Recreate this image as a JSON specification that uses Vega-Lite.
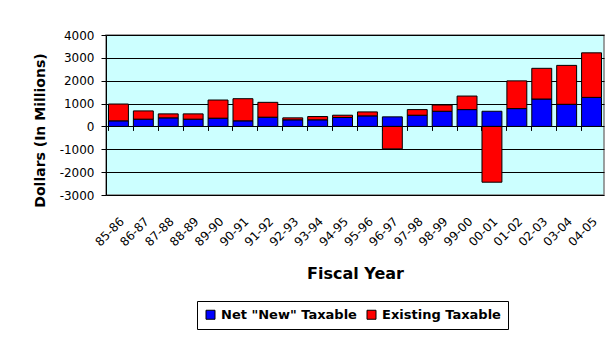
{
  "$schema": "https://vega.github.io/schema/vega-lite/v6.json",
  "width": 498,
  "height": 160,
  "autosize": {"type": "none"},
  "padding": {"left": 106, "top": 35, "right": 9, "bottom": 146},
  "background": "white",
  "data": {
    "values": [
      {"year": "85-86", "series": "Net \"New\" Taxable", "value": 245},
      {"year": "85-86", "series": "Existing Taxable", "value": 735},
      {"year": "86-87", "series": "Net \"New\" Taxable", "value": 318},
      {"year": "86-87", "series": "Existing Taxable", "value": 361},
      {"year": "87-88", "series": "Net \"New\" Taxable", "value": 375},
      {"year": "87-88", "series": "Existing Taxable", "value": 174},
      {"year": "88-89", "series": "Net \"New\" Taxable", "value": 318},
      {"year": "88-89", "series": "Existing Taxable", "value": 231},
      {"year": "89-90", "series": "Net \"New\" Taxable", "value": 361},
      {"year": "89-90", "series": "Existing Taxable", "value": 794},
      {"year": "90-91", "series": "Net \"New\" Taxable", "value": 245},
      {"year": "90-91", "series": "Existing Taxable", "value": 968},
      {"year": "91-92", "series": "Net \"New\" Taxable", "value": 404},
      {"year": "91-92", "series": "Existing Taxable", "value": 650},
      {"year": "92-93", "series": "Net \"New\" Taxable", "value": 289},
      {"year": "92-93", "series": "Existing Taxable", "value": 86},
      {"year": "93-94", "series": "Net \"New\" Taxable", "value": 289},
      {"year": "93-94", "series": "Existing Taxable", "value": 144},
      {"year": "94-95", "series": "Net \"New\" Taxable", "value": 390},
      {"year": "94-95", "series": "Existing Taxable", "value": 101},
      {"year": "95-96", "series": "Net \"New\" Taxable", "value": 462},
      {"year": "95-96", "series": "Existing Taxable", "value": 173},
      {"year": "96-97", "series": "Net \"New\" Taxable", "value": 419},
      {"year": "96-97", "series": "Existing Taxable", "value": -982},
      {"year": "97-98", "series": "Net \"New\" Taxable", "value": 491},
      {"year": "97-98", "series": "Existing Taxable", "value": 245},
      {"year": "98-99", "series": "Net \"New\" Taxable", "value": 664},
      {"year": "98-99", "series": "Existing Taxable", "value": 275},
      {"year": "99-00", "series": "Net \"New\" Taxable", "value": 736},
      {"year": "99-00", "series": "Existing Taxable", "value": 593},
      {"year": "00-01", "series": "Net \"New\" Taxable", "value": 664},
      {"year": "00-01", "series": "Existing Taxable", "value": -2440},
      {"year": "01-02", "series": "Net \"New\" Taxable", "value": 780},
      {"year": "01-02", "series": "Existing Taxable", "value": 1213},
      {"year": "02-03", "series": "Net \"New\" Taxable", "value": 1199},
      {"year": "02-03", "series": "Existing Taxable", "value": 1343},
      {"year": "03-04", "series": "Net \"New\" Taxable", "value": 968},
      {"year": "03-04", "series": "Existing Taxable", "value": 1703},
      {"year": "04-05", "series": "Net \"New\" Taxable", "value": 1271},
      {"year": "04-05", "series": "Existing Taxable", "value": 1949}
    ]
  },
  "mark": {"type": "bar", "stroke": "black", "strokeWidth": 1},
  "encoding": {
    "x": {
      "field": "year",
      "type": "ordinal",
      "sort": null,
      "scale": {"paddingInner": 0.2, "paddingOuter": 0.1},
      "axis": {
        "orient": "bottom",
        "offset": -68.57,
        "title": "Fiscal Year",
        "titleFont": "DejaVu Sans",
        "titleFontSize": 16,
        "titleFontWeight": "bold",
        "titleColor": "black",
        "titlePadding": 18,
        "labelAngle": -45,
        "labelFont": "DejaVu Sans",
        "labelFontSize": 12,
        "labelColor": "black",
        "labelPadding": 85,
        "ticks": true,
        "bandPosition": 0,
        "tickSize": 4,
        "tickColor": "black",
        "domain": false,
        "grid": false
      }
    },
    "y": {
      "field": "value",
      "type": "quantitative",
      "stack": "zero",
      "scale": {"domain": [-3000, 4000], "nice": false},
      "axis": {
        "title": "Dollars (In Millions)",
        "titleFont": "DejaVu Sans",
        "titleFontSize": 14,
        "titleFontWeight": "bold",
        "titleColor": "black",
        "titlePadding": 12,
        "titleY": 95,
        "values": [-3000, -2000, -1000, 0, 1000, 2000, 3000, 4000],
        "labelExpr": "'' + datum.value",
        "labelFont": "DejaVu Sans",
        "labelFontSize": 12,
        "labelColor": "black",
        "labelPadding": 7,
        "tickSize": 5,
        "tickColor": "black",
        "domainColor": "black",
        "gridColor": "black",
        "gridOpacity": 1,
        "gridWidth": 1
      }
    },
    "color": {
      "field": "series",
      "type": "nominal",
      "scale": {
        "domain": ["Net \"New\" Taxable", "Existing Taxable"],
        "range": ["#0000FF", "#FF0000"]
      },
      "legend": {
        "title": null,
        "orient": "none",
        "legendX": 91,
        "legendY": 266,
        "direction": "horizontal",
        "columns": 2,
        "symbolType": "square",
        "symbolSize": 81,
        "symbolStrokeColor": "black",
        "symbolStrokeWidth": 1,
        "symbolOpacity": 1,
        "labelFont": "DejaVu Sans",
        "labelFontSize": 13,
        "labelFontWeight": "bold",
        "labelColor": "black",
        "columnPadding": 8,
        "strokeColor": "black",
        "padding": 7,
        "fillColor": "white"
      }
    },
    "order": {"field": "series", "sort": "descending"}
  },
  "config": {
    "view": {"fill": "#CCFFFF", "stroke": "#808080", "strokeWidth": 1.5}
  }
}
